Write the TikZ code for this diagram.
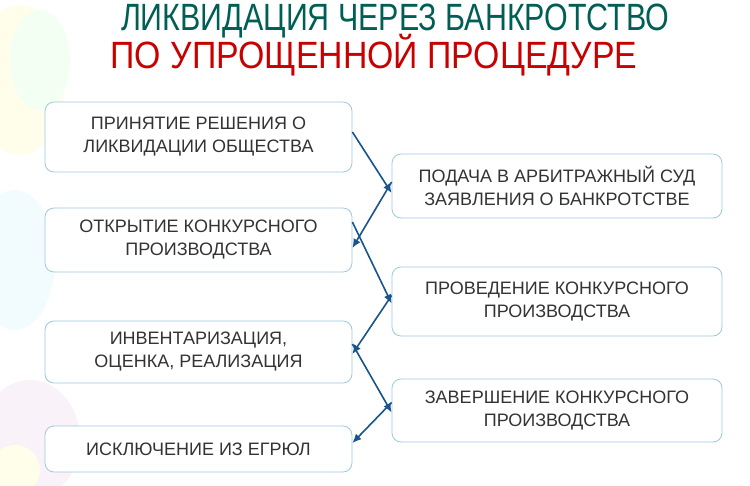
\documentclass[tikz,border=0pt]{standalone}
\usepackage{fontspec}
\setmainfont{Liberation Sans}
\usetikzlibrary{arrows.meta}
\definecolor{arrc}{RGB}{25,85,140}
\definecolor{boxc}{RGB}{160,200,225}
\definecolor{titg}{RGB}{0,95,85}
\definecolor{titr}{RGB}{200,0,0}
\begin{document}
\begin{tikzpicture}[x=1pt,y=-1pt,
  box/.style={draw=boxc, line width=0.8pt, rounded corners=9pt, fill=white, align=center, font=\fontsize{18}{23}\selectfont, text=black!80},
  ttl/.style={font=\fontsize{38}{40}\selectfont},
  arr/.style={draw=arrc, line width=1.6pt, -{Latex[length=9pt,width=8pt]}}]
\useasboundingbox (0,0) rectangle (750,485);
\fill[white] (0,0) rectangle (750,485);
% faint balloons
\fill[yellow!8] (20,80) ellipse (45 and 75);
\fill[green!5] (40,60) ellipse (30 and 50);
\fill[cyan!5] (15,260) ellipse (40 and 70);
\fill[violet!5] (30,440) ellipse (50 and 60);
\fill[yellow!8] (15,470) ellipse (25 and 25);
% title
\node[ttl, text=titg] (t1) at (395,21) {\scalebox{0.8}[1]{ЛИКВИДАЦИЯ ЧЕРЕЗ БАНКРОТСТВО}};
\node[ttl, text=titr] (t2) at (374,55) {\scalebox{0.89}[1]{ПО УПРОЩЕННОЙ ПРОЦЕДУРЕ}};
% boxes
\node[box, minimum width=307pt, minimum height=70pt] (b1) at (198.5,137) {ПРИНЯТИЕ РЕШЕНИЯ О\\ЛИКВИДАЦИИ ОБЩЕСТВА};
\node[box, minimum width=307pt, minimum height=64pt] (b2) at (198.5,240) {ОТКРЫТИЕ КОНКУРСНОГО\\ПРОИЗВОДСТВА};
\node[box, minimum width=307pt, minimum height=62pt] (b3) at (198.5,352) {ИНВЕНТАРИЗАЦИЯ,\\ОЦЕНКА, РЕАЛИЗАЦИЯ};
\node[box, minimum width=307pt, minimum height=46pt] (b4) at (198.5,449) {ИСКЛЮЧЕНИЕ ИЗ ЕГРЮЛ};
\node[box, minimum width=330pt, minimum height=64pt] (r1) at (557,186) {ПОДАЧА В АРБИТРАЖНЫЙ СУД\\ЗАЯВЛЕНИЯ О БАНКРОТСТВЕ};
\node[box, minimum width=330pt, minimum height=69pt] (r2) at (557,301.5) {ПРОВЕДЕНИЕ КОНКУРСНОГО\\ПРОИЗВОДСТВА};
\node[box, minimum width=330pt, minimum height=63pt] (r3) at (557,410.5) {ЗАВЕРШЕНИЕ КОНКУРСНОГО\\ПРОИЗВОДСТВА};
% arrows
\draw[arr] ([yshift=5pt]b1.east) -- ([yshift=-7pt]r1.west);
\draw[arr] ([yshift=4pt]r1.west) -- ([yshift=-8pt]b2.east);
\draw[arr] ([yshift=18pt]b2.east) -- ([yshift=-2pt]r2.west);
\draw[arr] ([yshift=6pt]r2.west) -- ([yshift=-2pt]b3.east);
\draw[arr] ([yshift=8pt]b3.east) -- ([yshift=-2pt]r3.west);
\draw[arr] ([yshift=8pt]r3.west) -- ([yshift=6pt]b4.east);
\end{tikzpicture}
\end{document}
